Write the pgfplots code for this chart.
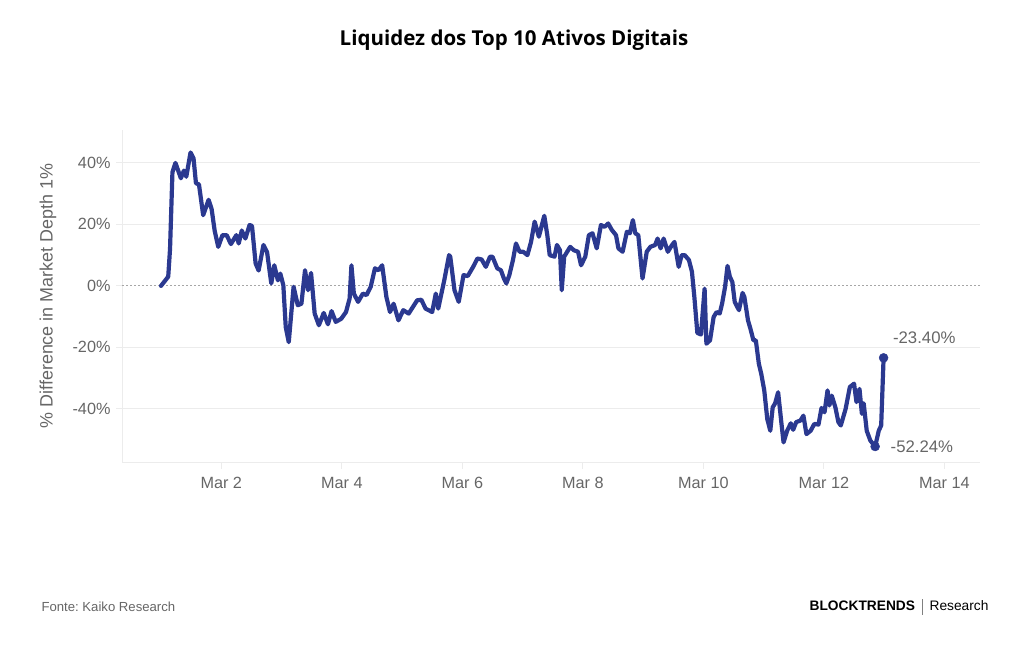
\documentclass[border=0pt]{standalone}
\usepackage{pgfplots}
\pgfplotsset{compat=1.18}
\usepackage{fontspec}
\setmainfont{Liberation Sans}
\newfontfamily\titlefont{Open Sans}
\definecolor{navy}{HTML}{2B3990}
\definecolor{lbl}{HTML}{666666}
\definecolor{gridc}{HTML}{ECECEC}
\frenchspacing
\begin{document}
\begin{tikzpicture}[x=1bp,y=1bp]
\path[use as bounding box] (0,0) rectangle (1024,645);
\node[font={\titlefont\bfseries\fontsize{20.6}{24}\selectfont}] at (514,605) {Liquidez dos Top 10 Ativos Digitais};
\node[anchor=west,text=lbl,font={\fontsize{13.2}{15}\selectfont}] at (38,38) {Fonte: Kaiko Research};
\node[anchor=east,font={\fontsize{13.8}{16}\selectfont}] at (992,38) {{\bfseries BLOCKTRENDS}\hspace{7bp}\textcolor{gray}{\vrule height 12bp depth 4bp width 0.6bp}\hspace{7bp}Research};
\node[rotate=90,text=lbl,font={\fontsize{18}{21}\selectfont}] at (48,349) {\% Difference in Market Depth 1\%};
\begin{axis}[
  at={(122bp,182bp)}, anchor=south west,
  width=858bp, height=333bp, scale only axis,
  xmin=-0.647, xmax=13.59, ymin=-57.6, ymax=50.7,
  axis x line*=bottom, axis y line*=left,
  axis line style={draw=gridc, line width=1bp, -},
  tick align=outside, major tick length=6bp,
  tick style={draw=gridc, line width=1bp},
  xtick={1,3,5,7,9,11,13},
  xticklabels={Mar 2,Mar 4,Mar 6,Mar 8,Mar 10,Mar 12,Mar 14},
  ytick={-40,-20,20,40},
  yticklabels={-40\%,-20\%,20\%,40\%},
  extra y ticks={0}, extra y tick labels={0\%},
  extra y tick style={grid style={draw=gray!70, dash pattern=on 2bp off 2bp, line width=0.8bp}},
  ymajorgrids, grid style={draw=gridc, line width=1bp},
  ticklabel style={text=lbl, font={\fontsize{16.3}{19}\selectfont}},
  xticklabel style={yshift=-5bp},
  yticklabel style={xshift=-2bp},
  /pgf/number format/assume math mode=true,
  clip=false,
]
\addplot[navy, line width=4.2bp, line join=round, line cap=round] coordinates {
(0,0) (0.12,3) (0.15,12) (0.19,37) (0.24,40) (0.33,35) (0.38,37.5) (0.42,35.5) (0.49,43.4) (0.54,41.5)
(0.58,33.4) (0.63,33) (0.70,23) (0.79,28) (0.84,25) (0.89,18) (0.95,12.7) (1.02,16.5) (1.09,16.5) (1.16,13.6)
(1.25,16.5) (1.29,13.8) (1.34,18) (1.40,15.4) (1.47,19.8) (1.51,19.5) (1.57,7.3) (1.62,5) (1.70,13.3) (1.76,11)
(1.83,0.8) (1.88,6.7) (1.94,1.8) (1.98,4) (2.03,0.2) (2.07,-13.4) (2.12,-18.3) (2.20,-0.3) (2.27,-6.3) (2.33,-5.8)
(2.39,5.1) (2.44,-1.4) (2.49,4.2) (2.55,-9) (2.62,-12.8) (2.70,-8.8) (2.77,-12.5) (2.83,-8.2) (2.90,-11.7) (2.99,-10.7)
(3.07,-8.5) (3.13,-4.1) (3.16,6.7) (3.20,-2.5) (3.27,-5.2) (3.35,-2.5) (3.41,-3) (3.48,-0.3) (3.55,5.7) (3.61,5.1)
(3.67,6.7) (3.74,-3.6) (3.80,-8.5) (3.86,-5.8) (3.94,-11.2) (4.02,-7.9) (4.11,-9) (4.25,-4.7) (4.32,-4.5) (4.39,-7.4)
(4.50,-8.5) (4.56,-2.5) (4.60,-7.4) (4.70,1.8) (4.78,10) (4.80,9.5) (4.87,-1.4) (4.94,-5.2) (5.02,3.5) (5.09,3.2)
(5.18,6.2) (5.25,8.9) (5.32,8.6) (5.39,6.2) (5.46,9.5) (5.50,9.5) (5.58,5.7) (5.64,5.1) (5.69,2.4) (5.73,0.8)
(5.78,3.5) (5.84,8.4) (5.89,13.8) (5.95,11.1) (6.01,11.1) (6.08,10) (6.14,14.3) (6.20,20.9) (6.27,16) (6.36,22.8)
(6.41,16.5) (6.45,10) (6.53,9.5) (6.57,13.3) (6.62,11.6) (6.65,-1.4) (6.69,9.5) (6.79,12.7) (6.85,11.6) (6.92,11.1)
(6.97,6.7) (7.04,9.5) (7.10,16.5) (7.16,17.1) (7.23,12.2) (7.30,19.8) (7.36,19.2) (7.42,20.3) (7.48,18.2) (7.55,16.5)
(7.59,12.2) (7.66,11.1) (7.73,17.6) (7.78,17.1) (7.83,21.4) (7.87,17.1) (7.92,16.5) (7.99,2.4) (8.06,11.1) (8.12,12.7)
(8.20,13.3) (8.24,15.4) (8.29,12.2) (8.34,15.4) (8.41,11.1) (8.48,13.3) (8.52,14.3) (8.59,6.2) (8.64,10) (8.69,10)
(8.76,8.4) (8.81,4.6) (8.85,-3.6) (8.90,-15.3) (8.96,-15.8) (9.02,-0.9) (9.05,-18.8) (9.11,-17.7) (9.17,-10.1) (9.22,-8.5)
(9.27,-9) (9.31,-5.8) (9.36,-0.3) (9.40,6.5) (9.44,2.9) (9.48,1.3) (9.52,-5.2) (9.59,-7.9) (9.65,-2.3) (9.68,-3.6)
(9.74,-11.2) (9.78,-13.9) (9.83,-17.7) (9.87,-17.7) (9.92,-25.3) (9.96,-28.6) (10.01,-34) (10.06,-43.3) (10.11,-47.1) (10.15,-39.5)
(10.19,-38.2) (10.24,-34.6) (10.29,-43.8) (10.33,-50.9) (10.39,-47.1) (10.45,-44.7) (10.49,-46.8) (10.54,-44.3) (10.61,-43.8) (10.66,-42.2)
(10.71,-48.2) (10.78,-47.1) (10.84,-44.9) (10.91,-45.1) (10.96,-39.7) (11.01,-41.1) (11.06,-34) (11.09,-38.9) (11.13,-35.7) (11.19,-39.5)
(11.24,-44.3) (11.28,-45.4) (11.36,-40) (11.43,-32.9) (11.50,-31.8) (11.54,-37.8) (11.59,-33.5) (11.63,-41.6) (11.66,-38.2) (11.71,-47.1)
(11.77,-50.3) (11.85,-52.24) (11.91,-47.1) (11.95,-45.4) (11.99,-23.4)
};
\addplot[only marks, mark=*, mark size=4.5bp, navy] coordinates {(11.85,-52.24) (11.99,-23.4)};
\node[anchor=west, text=lbl, font={\fontsize{16.8}{19}\selectfont}] at (axis cs:11.85,-52.24) [xshift=12bp] {-52.24\%};
\node[anchor=west, text=lbl, font={\fontsize{16.8}{19}\selectfont}] at (axis cs:11.99,-23.4) [xshift=6bp, yshift=20bp] {-23.40\%};
\end{axis}
\end{tikzpicture}
\end{document}
